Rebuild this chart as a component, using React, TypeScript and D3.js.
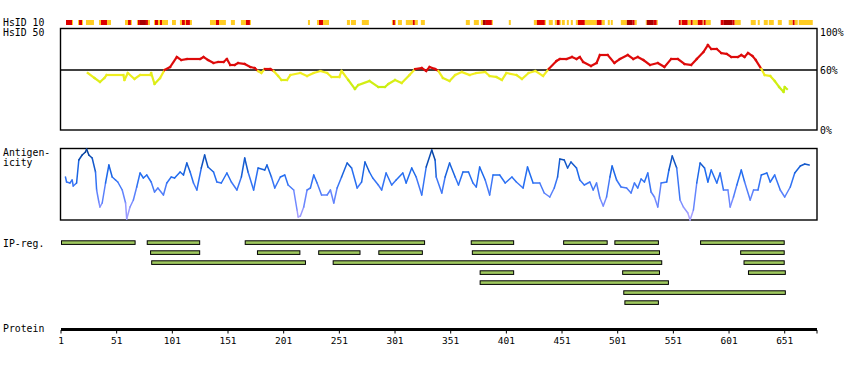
import React from 'react'
import * as d3 from 'd3'

// HsID 10 strip: [start, end, level] level 1 = weak, 2 = strong, 3 = strongest
const hsid10Segments: [number, number, number][] = [
    [5.5, 10.9, 2], [10.9, 11.8, 1], [16.3, 17.2, 1], [17.2, 19.9, 2], [19.9, 20.8, 1],
    [23.4, 30.6, 1], [35.1, 36.9, 1], [36.9, 42.3, 2], [42.3, 45.9, 1],
    [58.5, 61.2, 1], [61.2, 63.8, 2], [63.8, 64.7, 1],
    [69.2, 70.1, 1], [70.1, 71.9, 2], [71.9, 77.3, 3], [77.3, 79.1, 2], [79.1, 80.9, 1],
    [84.5, 85.4, 1], [85.4, 88.1, 2], [88.1, 89.9, 1], [89.9, 91.7, 2], [91.7, 97.1, 1],
    [100.7, 104.2, 1], [107.8, 109.6, 1], [109.6, 112.3, 2], [112.3, 113.2, 1],
    [113.2, 116.8, 2], [116.8, 118.6, 1],
    [134.8, 140.2, 1], [140.2, 142.9, 2], [142.9, 149.1, 1], [153.6, 157.2, 1],
    [162.6, 167.1, 1], [167.1, 170.7, 2], [170.7, 171.6, 1],
    [222.8, 224.6, 1], [230.9, 232.7, 1], [232.7, 236.3, 2], [236.3, 241.7, 1],
    [257.8, 260.5, 1], [261.4, 265.9, 1], [271.2, 277.5, 1],
    [298.2, 299.1, 1], [299.1, 300.9, 2], [300.9, 301.8, 1], [303.6, 307.2, 1],
    [310.7, 317, 1], [317, 318.8, 2], [318.8, 321.5, 1], [324.2, 327.8, 1],
    [364.6, 368.2, 1], [371.8, 376.3, 1], [378.1, 379.9, 1], [379.9, 382.6, 3],
    [382.6, 388, 2], [388, 388.9, 1], [403.2, 405, 1],
    [425.7, 428.4, 1], [428.4, 435.6, 2], [435.6, 436.5, 1], [439.1, 442.7, 1],
    [444.5, 446.3, 1], [446.3, 449, 2], [449, 449.9, 1], [450.8, 453.5, 1],
    [455.3, 457.1, 1], [458.9, 460.7, 1], [463.4, 465.2, 1], [465.2, 471.5, 2],
    [471.5, 482.2, 1], [482.2, 486.7, 2], [486.7, 489.4, 1], [492.1, 493.9, 1],
    [494.8, 496.6, 1], [503.8, 509.2, 1], [509.2, 514.5, 3], [514.5, 516.3, 2],
    [516.3, 518.1, 1], [526.2, 527.1, 1], [527.1, 533.4, 3], [533.4, 536.1, 2],
    [536.1, 537, 1], [555.9, 557.7, 2], [557.7, 558.5, 1], [558.5, 563.9, 2],
    [563.9, 566.6, 1], [566.6, 568.4, 2], [568.4, 572.9, 1], [572.9, 577.4, 2],
    [577.4, 578.3, 1], [578.3, 580.1, 2], [580.1, 584.6, 1],
    [593.5, 596.3, 2], [596.3, 604.3, 3], [604.3, 606.1, 2], [606.1, 611.5, 1],
    [620.5, 625, 1], [626.8, 628.6, 1], [632.2, 635.8, 1], [636.7, 641.2, 1],
    [644.8, 648.4, 1], [654.6, 658.2, 1], [658.2, 660, 2], [660, 662.7, 1], [663.6, 676.2, 1]
]

// HsID 50 identity (%) per residue
const hsid50Residues = [
    25, 31, 36, 40, 42, 57, 58, 61, 67, 72, 81, 82, 85, 90, 94, 99, 105, 109, 114, 126,
    129, 133, 138, 142, 147, 150, 153, 157, 160, 166, 171, 175, 178, 181, 184, 189, 192, 196, 199, 204,
    207, 216, 222, 228, 234, 240, 244, 251, 253, 259, 265, 268, 278, 286, 292, 295, 301, 307, 314, 319,
    325, 329, 332, 337, 340, 344, 350, 355, 361, 368, 374, 382, 386, 392, 397, 401, 410, 415, 421, 427,
    434, 439, 446, 449, 455, 460, 464, 467, 470, 477, 482, 485, 492, 498, 503, 510, 515, 519, 524, 530,
    537, 543, 549, 555, 561, 567, 572, 578, 582, 585, 590, 594, 599, 603, 609, 612, 615, 618, 622, 625,
    630, 633, 638, 642, 646, 650, 651, 653
]
const hsid50Values = [
    57, 52, 48, 52, 55, 55, 50, 57, 51, 55, 55, 57, 46, 52, 60, 63, 73, 70, 71, 71,
    73, 70, 67, 68, 68, 71, 65, 65, 67, 66, 63, 62, 59, 57, 61, 61, 59, 54, 50, 50,
    55, 57, 54, 57, 59, 57, 53, 53, 59, 50, 41, 45, 49, 43, 43, 46, 50, 47, 55, 61,
    62, 59, 63, 61, 59, 52, 49, 55, 58, 55, 57, 58, 54, 53, 50, 57, 55, 51, 57, 59,
    54, 61, 69, 71, 71, 73, 71, 73, 68, 64, 67, 75, 75, 67, 71, 75, 71, 73, 70, 65,
    67, 63, 71, 71, 66, 65, 71, 78, 85, 81, 81, 77, 76, 73, 73, 75, 73, 77, 74, 70,
    61, 55, 54, 49, 43, 38, 43, 41
]

// Antigenicity score per residue
const antiResidues = [
    5, 6, 9, 11, 12, 15, 17, 20, 23, 24, 26, 29, 32, 33, 35, 36, 38, 41, 44, 47,
    50, 52, 56, 59, 60, 63, 66, 69, 72, 75, 78, 82, 85, 88, 93, 96, 100, 103, 108, 111,
    114, 117, 120, 123, 127, 130, 133, 138, 141, 145, 150, 154, 159, 163, 166, 169, 174, 178, 184, 186,
    190, 193, 198, 202, 205, 210, 213, 214, 216, 219, 222, 225, 228, 231, 235, 240, 243, 246, 249, 253,
    258, 262, 267, 271, 274, 278, 281, 286, 289, 293, 298, 302, 308, 311, 316, 320, 325, 329, 334, 337,
    338, 343, 346, 350, 355, 358, 362, 367, 371, 374, 377, 382, 386, 389, 395, 400, 406, 410, 416, 420,
    425, 431, 435, 440, 444, 447, 449, 453, 456, 459, 464, 467, 471, 476, 479, 482, 485, 488, 491, 494,
    496, 500, 504, 509, 513, 516, 519, 522, 525, 528, 531, 534, 537, 540, 545, 547, 550, 554, 557, 560,
    564, 566, 569, 572, 575, 579, 582, 585, 590, 593, 596, 600, 602, 605, 608, 612, 615, 620, 623, 627,
    630, 635, 638, 642, 647, 651, 656, 660, 665, 669, 673
]
const antiValues = [
    43, 38, 37, 40, 34, 37, 60, 65, 68, 71, 65, 62, 48, 30, 18, 13, 17, 37, 55, 43,
    40, 38, 30, 17, 1, 13, 20, 33, 47, 42, 45, 38, 28, 32, 25, 37, 43, 42, 48, 45,
    57, 48, 37, 30, 52, 65, 53, 48, 38, 37, 47, 38, 30, 43, 62, 48, 30, 52, 50, 55,
    43, 32, 43, 45, 35, 30, 10, 3, 4, 13, 30, 32, 45, 37, 25, 25, 30, 17, 32, 43,
    57, 52, 32, 38, 58, 48, 42, 35, 30, 47, 35, 40, 47, 37, 52, 43, 25, 53, 70, 60,
    43, 27, 43, 57, 43, 35, 48, 48, 37, 33, 53, 40, 25, 45, 45, 37, 43, 38, 32, 53,
    37, 37, 27, 23, 32, 43, 61, 60, 52, 58, 52, 40, 35, 38, 30, 37, 22, 14, 23, 43,
    54, 40, 33, 32, 27, 37, 32, 41, 38, 47, 28, 23, 13, 37, 38, 50, 64, 52, 20, 13,
    7, 0, 10, 37, 57, 52, 38, 50, 37, 47, 30, 30, 13, 23, 35, 50, 38, 20, 30, 30,
    45, 47, 38, 45, 30, 23, 33, 47, 54, 56, 55
]

// IP regions: start, end, row
const ipStart = [1, 78, 166, 369, 452, 498, 575, 81, 177, 232, 286, 370, 611, 82, 245, 614, 377, 505, 618, 377, 506, 507]
const ipEnd = [68, 126, 328, 408, 492, 538, 651, 126, 216, 270, 326, 539, 651, 221, 541, 651, 408, 539, 652, 547, 652, 538]
const ipRow = [0, 0, 0, 0, 0, 0, 0, 1, 1, 1, 1, 1, 1, 2, 2, 2, 3, 3, 3, 4, 5, 6]

const tickValues = [1, 51, 101, 151, 201, 251, 301, 351, 401, 451, 501, 551, 601, 651]
const proteinLength = 680

const FONT = '"DejaVu Sans Mono", monospace'

export default function App() {
    const x = d3.scaleLinear().domain([1, proteinLength]).range([61, 817])
    const yId = d3.scaleLinear().domain([0, 100]).range([130, 30])
    const yAnti = d3.scaleLinear().domain([0, 72]).range([220, 148])

    const stripColor = (l: number) => (l === 3 ? '#a80000' : l === 2 ? '#dd0000' : '#ffcc22')
    const idColor = (v: number) =>
        v >= 60 ? '#dd0a0a' : d3.interpolateRgb('#c8ee10', '#f2ee20')(Math.max(0, Math.min(1, (v - 44) / 12)))
    const antiColor = d3
        .scaleLinear<string>()
        .domain([0, 20, 45, 72])
        .range(['#b4a6ff', '#6f88ff', '#1f6cf0', '#00398f'])
        .clamp(true)

    const idSegs = hsid50Residues.slice(1).map((r, i) => ({
        x1: x(hsid50Residues[i]),
        y1: yId(hsid50Values[i]),
        x2: x(r),
        y2: yId(hsid50Values[i + 1]),
        c: idColor((hsid50Values[i] + hsid50Values[i + 1]) / 2)
    }))
    const antiSegs = antiResidues.slice(1).map((r, i) => ({
        x1: x(antiResidues[i]),
        y1: yAnti(antiValues[i]),
        x2: x(r),
        y2: yAnti(antiValues[i + 1]),
        c: antiColor((antiValues[i] + antiValues[i + 1]) / 2)
    }))

    const label = { fontFamily: FONT, fontSize: 9.8, fill: '#000' }
    const [x0, x1] = x.range()

    return (
        <svg width={850} height={370} style={{ position: 'absolute', left: 0, top: 0, background: '#fff' }}>
            {/* left labels */}
            <text x={3} y={25.5} {...label}>HsID 10</text>
            <text x={3} y={36} {...label}>HsID 50</text>
            <text x={3} y={155.5} {...label}>Antigen-</text>
            <text x={3} y={165.5} {...label}>icity</text>
            <text x={3} y={246.5} {...label}>IP-reg.</text>
            <text x={3} y={332} {...label}>Protein</text>

            {/* HsID 10 strip */}
            {hsid10Segments.map(([s, e, l], i) => (
                <rect key={'s' + i} x={x(s)} y={20} width={x(e) - x(s)} height={5} fill={stripColor(l)} />
            ))}

            {/* HsID 50 panel */}
            <rect x={x0 - 0.5} y={28.5} width={x1 - x0 + 0.5} height={101.5} fill="none" stroke="#000" strokeWidth={1.4} />
            <line x1={x0} x2={x1} y1={yId(60)} y2={yId(60)} stroke="#000" strokeWidth={1.3} />
            {idSegs.map((s, i) => (
                <line key={'h' + i} x1={s.x1} y1={s.y1} x2={s.x2} y2={s.y2} stroke={s.c} strokeWidth={2.2} strokeLinecap="square" />
            ))}
            <text x={820} y={36} {...label}>100%</text>
            <text x={820} y={73.5} {...label}>60%</text>
            <text x={820} y={133.5} {...label}>0%</text>

            {/* Antigenicity panel */}
            <rect x={x0 - 0.5} y={148.5} width={x1 - x0 + 0.5} height={71.5} fill="none" stroke="#000" strokeWidth={1.4} />
            {antiSegs.map((s, i) => (
                <line key={'a' + i} x1={s.x1} y1={s.y1} x2={s.x2} y2={s.y2} stroke={s.c} strokeWidth={1.5} strokeLinecap="round" />
            ))}

            {/* IP regions */}
            {ipStart.map((s, i) => (
                <rect
                    key={'ip' + i}
                    x={x(s) + 0.5}
                    y={240.8 + ipRow[i] * 10}
                    width={x(ipEnd[i]) - x(s) - 1}
                    height={3.6}
                    fill="#9fc85f"
                    stroke="#000"
                    strokeWidth={1}
                />
            ))}

            {/* Protein axis */}
            <line x1={x0} x2={x1} y1={329.5} y2={329.5} stroke="#000" strokeWidth={3} />
            {[...tickValues, proteinLength].map((t) => (
                <line key={'t' + t} x1={x(t)} x2={x(t)} y1={330} y2={333.5} stroke="#000" strokeWidth={1} />
            ))}
            {tickValues.map((t) => (
                <text key={'l' + t} x={x(t)} y={344} textAnchor="middle" fontFamily={FONT} fontSize={9.5}>
                    {t}
                </text>
            ))}
        </svg>
    )
}
